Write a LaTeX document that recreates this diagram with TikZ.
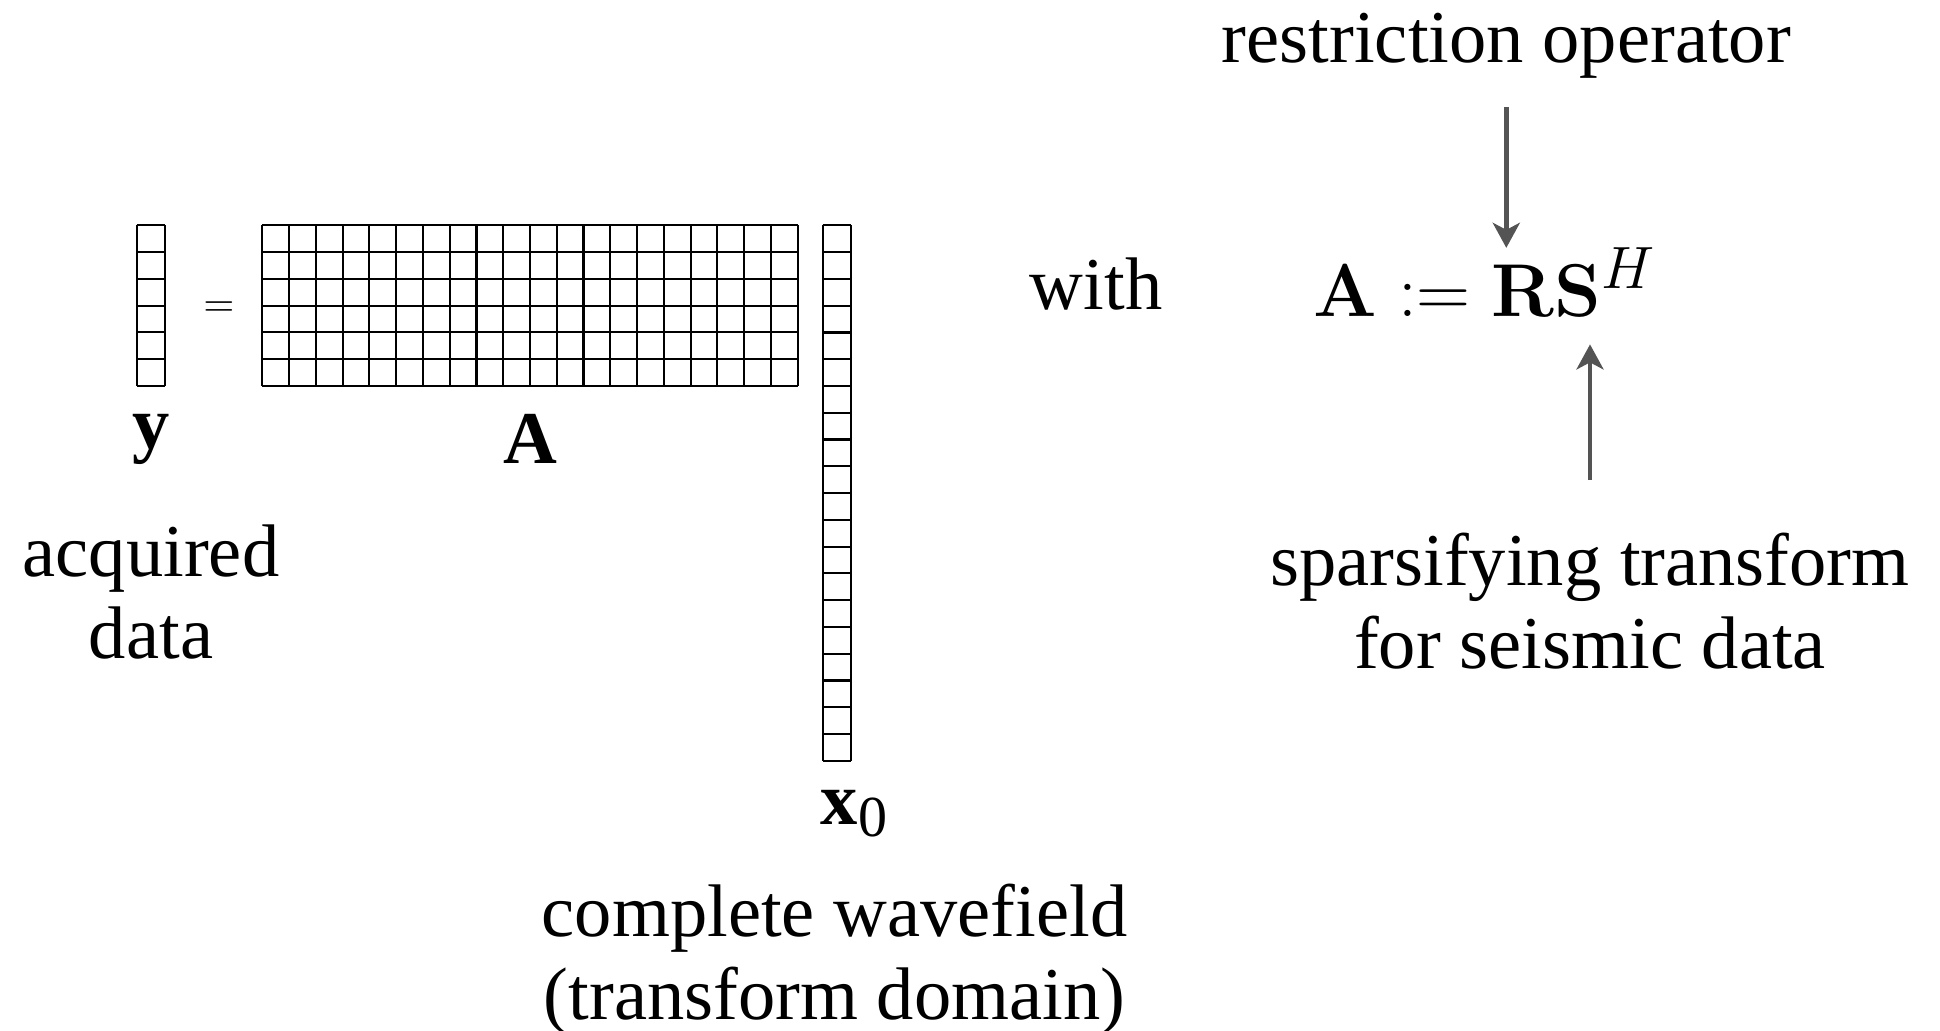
\documentclass[tikz,border=0pt]{standalone}
\usepackage{fix-cm}
\usepackage[no-math]{fontspec}
\setmainfont{Liberation Serif}
\usetikzlibrary{arrows.meta}
\DeclareMathSizes{21.3}{21.3}{17}{12}

\begin{document}
\begin{tikzpicture}[
		every node/.style={font=\fontsize{21.2}{23.6}\selectfont, inner sep=0pt},
		gridline/.style={line width=0.6pt},
		pointer/.style={-{Stealth[length=2.5mm, width=2.7mm, inset=0.7mm]}, line width=1.3pt, color=black!67}
	]
		\useasboundingbox (0,0) rectangle (19.40,10.31);
		
		\begin{scope}[shift={(1.367,6.45)}, xscale=0.283, yscale=0.2677]
			\draw[gridline] (0,0) grid (1,6);
		\end{scope}
		\begin{scope}[shift={(2.623,6.45)}, xscale=0.2677, yscale=0.2677]
			\draw[gridline] (0,0) grid (20,6);
		\end{scope}
		\begin{scope}[shift={(8.227,8.056)}, xscale=0.28, yscale=0.2677]
			\draw[gridline] (0,-20) grid (1,0);
		\end{scope}
		
		\node (eq) at (2.19,7.22) {\fontsize{11.4}{12}\selectfont $=$};
		\node (ylab) at (1.51,5.92) {\textbf{y}};
		\node (Alab) at (5.30,5.92) {\textbf{A}};
		\node (xlab) at (8.54,2.175) {\textbf{x}\raisebox{-0.16em}{\fontsize{16.5}{16.5}\selectfont 0}};
		\node[align=center] (acq) at (1.51,4.39) {acquired\\data};
		\node[align=center] (wave) at (8.345,0.71) {complete wavefield\\(transform domain)};
		
		\node[anchor=base] (with) at (10.96,7.21) {with};
		\node[anchor=base west, font=\fontsize{21.3}{24}\selectfont] (formula) at (13.13,7.143) {$\mathbf{A} := \mathbf{RS}^H$};
		\node[anchor=base] (restr) at (15.063,9.68) {restriction operator};
		\node[align=center] (sparse) at (15.90,4.30) {sparsifying transform\\for seismic data};
		
		\draw[pointer] ([yshift=-2.75mm]restr.south) -- ([yshift=-0.1mm]restr.south |- formula.north);
		\draw[pointer] ([yshift=5.2mm]sparse.north) -- ([yshift=-2.7mm]sparse.north |- formula.south);
	\end{tikzpicture}
\end{document}
